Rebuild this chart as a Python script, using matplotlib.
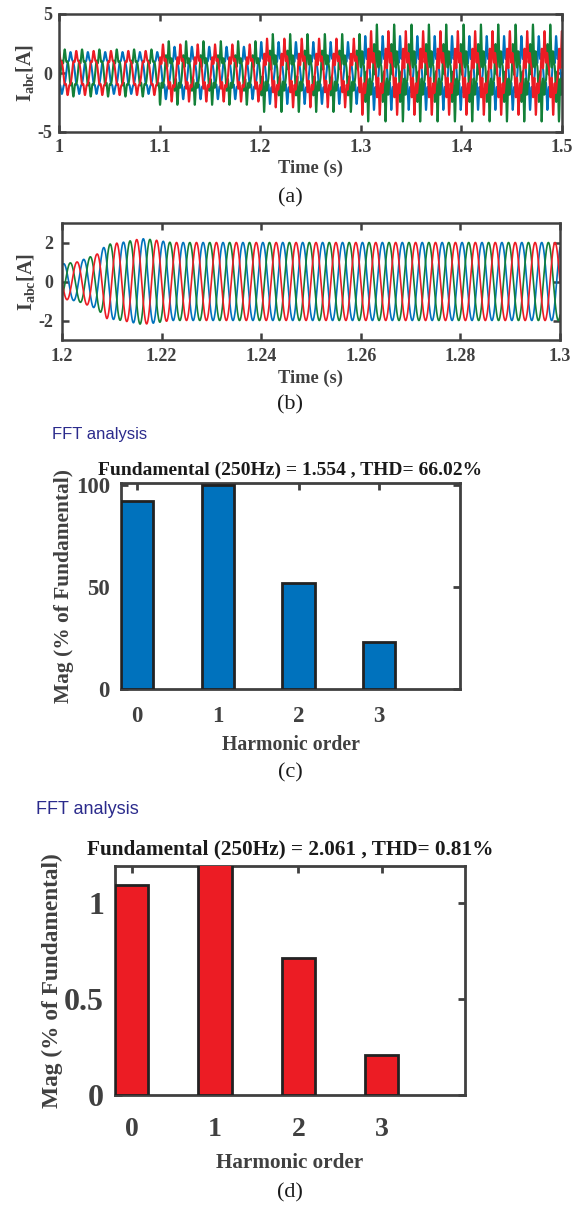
# Three-phase current traces and FFT spectra (a)-(d)

import numpy as np
import matplotlib.pyplot as plt

plt.rcParams['font.family'] = ['Liberation Serif', 'DejaVu Serif']
plt.rcParams['mathtext.fontset'] = 'custom'
plt.rcParams['mathtext.rm'] = 'Liberation Serif:bold'
plt.rcParams['mathtext.it'] = 'Liberation Serif:bold'
plt.rcParams['mathtext.bf'] = 'Liberation Serif:bold'
plt.rcParams['axes.unicode_minus'] = False

BLUE = '#0072BD'
RED = '#EC1C24'
GREEN = '#138038'
GREY = '#404040'
DARK = '#1a1a1a'

# (a) current before/after the change: segment start times and component amplitudes
seg_start = [1.00, 1.10, 1.20, 1.30]
amp_fund = [1.55, 1.75, 1.95, 2.15]
amp_h5 = [0.25, 0.45, 0.60, 0.80]
amp_h7 = [0.08, 0.25, 0.40, 0.65]
fund_hz_a = 58.0
# phase offsets (deg) and harmonic weighting per phase (blue, green, red)
phase_a = [120, -120, 0]
harm_gain = [0.7, 1.4, 1.0]

# (b) zoomed current: envelope points and fundamental
env_t = [1.200, 1.203, 1.205, 1.207, 1.209, 1.212, 1.216, 1.218, 1.222, 1.300]
env_amp = [0.90, 1.00, 1.20, 1.40, 1.90, 2.00, 2.20, 2.15, 2.00, 2.00]
fund_hz_b = 250.0
phase_b = [-30, 210, 90]

# (c), (d) FFT bars
orders = [0, 1, 2, 3]
mag_c = [92, 100, 52, 23]
mag_d = [1.09, 100, 0.71, 0.21]
title_c = 'Fundamental (250Hz) = 1.554 , THD= 66.02%'
title_d = 'Fundamental (250Hz) = 2.061 , THD= 0.81%'

W, H = 572, 1206
fig = plt.figure(figsize=(W / 100, H / 100), dpi=100)


def box(x0, y0, x1, y1):
    # pixel box (top-left origin) -> figure axes
    return fig.add_axes([x0 / W, 1 - y1 / H, (x1 - x0) / W, (y1 - y0) / H])


def style(ax, lw=1.8, tlen=5):
    for s in ax.spines.values():
        s.set_color(GREY)
        s.set_linewidth(lw)
    ax.tick_params(direction='in', top=True, right=True, length=tlen,
                   width=lw, colors=GREY)
    for lab in ax.get_xticklabels() + ax.get_yticklabels():
        lab.set_fontweight('bold')


def ftext(x, y, s, **kw):
    fig.text(x / W, 1 - y / H, s, ha='center', va='center', **kw)


# ---- (a)
ax = box(59, 14, 562, 132)
t = np.linspace(1.0, 1.5, 6000)
idx = np.searchsorted(seg_start, t, side='right') - 1
a1 = np.array(amp_fund)[idx]
a5 = np.array(amp_h5)[idx]
a7 = np.array(amp_h7)[idx]
w = 2 * np.pi * fund_hz_a
for k, col in enumerate([BLUE, GREEN, RED]):
    ph = np.deg2rad(phase_a[k])
    g = harm_gain[k]
    th = w * (t - 1.0) + ph
    y = (a1 * np.cos(th)
         + g * a5 * np.cos(5 * th)
         + g * a7 * np.cos(7 * th + 0.6))
    ax.plot(t, y, color=col, lw=1.5)
ax.set_xlim(1.0, 1.5)
ax.set_ylim(-5, 5)
ax.set_xticks([1, 1.1, 1.2, 1.3, 1.4, 1.5])
ax.set_xticklabels(['1', '1.1', '1.2', '1.3', '1.4', '1.5'])
ax.set_yticks([-5, 0, 5])
ax.tick_params(labelsize=13, pad=5)
style(ax)
ax.set_xlabel('Time (s)', fontsize=13.3, fontweight='bold', color=GREY, labelpad=3)
ax.set_ylabel(r'I$_{\rm abc}$[A]', fontsize=14.5, fontweight='bold', color=GREY,
              labelpad=1)
ftext(290, 198, '(a)', fontsize=16, color=DARK)

# ---- (b)
ax = box(62, 223, 560, 340)
tb = np.linspace(1.2, 1.3, 4000)
amp = np.interp(tb, env_t, env_amp)
wb = 2 * np.pi * fund_hz_b
for k, col in enumerate([BLUE, GREEN, RED]):
    ph = np.deg2rad(phase_b[k])
    ax.plot(tb, amp * np.cos(wb * (tb - 1.2) + ph), color=col, lw=1.2)
ax.set_xlim(1.2, 1.3)
ax.set_ylim(-3, 3)
ax.set_xticks([1.2, 1.22, 1.24, 1.26, 1.28, 1.3])
ax.set_xticklabels(['1.2', '1.22', '1.24', '1.26', '1.28', '1.3'])
ax.set_yticks([-2, 0, 2])
ax.tick_params(labelsize=13, pad=6)
style(ax)
ax.set_xlabel('Time (s)', fontsize=13.3, fontweight='bold', color=GREY, labelpad=3)
ax.set_ylabel(r'I$_{\rm abc}$[A]', fontsize=14.5, fontweight='bold', color=GREY,
              labelpad=1)
ftext(290, 405, '(b)', fontsize=16, color=DARK)

# ---- (c)
ax = box(121, 483, 460, 689)
ax.bar(orders, mag_c, width=0.4, color=BLUE, edgecolor='#222222', linewidth=2,
       zorder=3)
ax.set_xlim(-0.2, 4.0)
ax.set_ylim(0, 101)
ax.set_xticks(orders)
ax.set_yticks([0, 50, 100])
ax.tick_params(labelsize=16.5, pad=12)
ax.tick_params(axis='y', pad=8)
style(ax, lw=2, tlen=5)
ax.set_xlabel('Harmonic order', fontsize=14.2, fontweight='bold', color=GREY,
              labelpad=6)
ax.set_ylabel('Mag (% of Fundamental)', fontsize=15.4, fontweight='bold',
              color=GREY, labelpad=1)
ax.set_title(title_c, fontsize=14, fontweight='bold', color=DARK, pad=6)
fig.text(52 / W, 1 - 435 / H, 'FFT analysis', fontsize=12, color='#2b2b8c',
         family='Liberation Sans', va='center')
ftext(290, 773, '(c)', fontsize=16, color=DARK)

# ---- (d)
ax = box(115, 866, 465, 1095)
ax.bar(orders, mag_d, width=0.4, color=RED, edgecolor='#222222', linewidth=2,
       zorder=3)
ax.set_xlim(-0.2, 4.0)
ax.set_ylim(0, 1.19)
ax.set_xticks(orders)
ax.set_yticks([0, 0.5, 1])
ax.set_yticklabels(['0', '0.5', '1'])
ax.tick_params(axis='y', labelsize=23, pad=8)
ax.tick_params(axis='x', labelsize=20, pad=16)
style(ax, lw=2, tlen=5)
ax.set_xlabel('Harmonic order', fontsize=15.2, fontweight='bold', color=GREY,
              labelpad=8)
ax.set_ylabel('Mag (% of Fundamental)', fontsize=16.8, fontweight='bold',
              color=GREY, labelpad=1)
ax.set_title(title_d, fontsize=15.3, fontweight='bold', color=DARK, pad=8)
fig.text(36 / W, 1 - 809 / H, 'FFT analysis', fontsize=13, color='#2b2b8c',
         family='Liberation Sans', va='center')
ftext(290, 1193, '(d)', fontsize=16, color=DARK)

fig.savefig('out.png', dpi=100)
